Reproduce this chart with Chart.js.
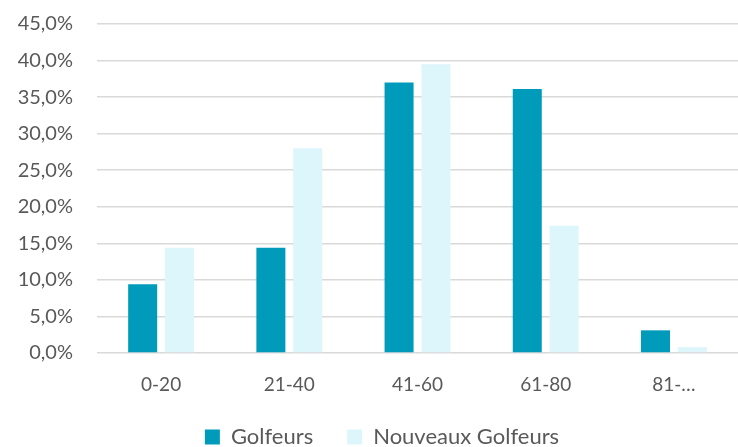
<!DOCTYPE html>
<html><head><meta charset="utf-8">
<script src="https://cdn.jsdelivr.net/npm/chart.js@4"></script>
<style>html,body{margin:0;padding:0;background:#fff;overflow:hidden}#w{width:738px;height:459px;margin-top:-12px}</style>
</head><body><div id="w"><canvas id="c"></canvas></div>
<script>
const categories = ["0-20", "21-40", "41-60", "61-80", "81-…"];
const golfeurs = [9.4, 14.4, 37.0, 36.1, 3.1];
const nouveauxGolfeurs = [14.4, 28.0, 39.5, 17.4, 0.8];
const seriesNames = ["Golfeurs", "Nouveaux Golfeurs"];
const fmt = v => v.toFixed(1).replace('.', ',') + '%';
const legendFit = {
  id: 'legendFit',
  beforeLayout(chart) {
    const lg = chart.legend;
    if (lg && !lg._patched) {
      const orig = lg.fit;
      lg.fit = function () { orig.call(this); this.height -= 11; };
      lg._patched = true;
    }
  }
};
new Chart(document.getElementById('c'), {
  type: 'bar',
  data: {
    labels: categories,
    datasets: [
      {label: seriesNames[0], data: golfeurs, backgroundColor: '#009BBB', categoryPercentage: 0.575, barPercentage: 0.787},
      {label: seriesNames[1], data: nouveauxGolfeurs, backgroundColor: '#DDF6FC', categoryPercentage: 0.575, barPercentage: 0.787}
    ]
  },
  plugins: [legendFit],
  options: {
    responsive: true, maintainAspectRatio: false, animation: false,
    layout: {padding: {top: -10, right: -11, left: 15, bottom: 0}},
    plugins: {
      tooltip: {enabled: false},
      legend: {position: 'bottom', labels: {font: {family: 'Lato', size: 22}, color: '#595959', boxWidth: 15, boxHeight: 15, padding: 34}}
    },
    scales: {
      x: {grid: {display: false, drawTicks: false}, border: {display: false},
          afterFit(axis) { axis.height = 39; },
          ticks: {font: {family: 'Lato', size: 19}, color: '#595959', padding: 20}},
      y: {min: 0, max: 45, border: {display: false},
          afterFit(axis) { axis.width = 82; },
          grid: {color: '#D9D9D9', lineWidth: 1.5, drawTicks: false},
          ticks: {stepSize: 5, callback: v => fmt(v), font: {family: 'Lato', size: 20}, color: '#595959', padding: 24}}
    }
  }
});
</script></body></html>
